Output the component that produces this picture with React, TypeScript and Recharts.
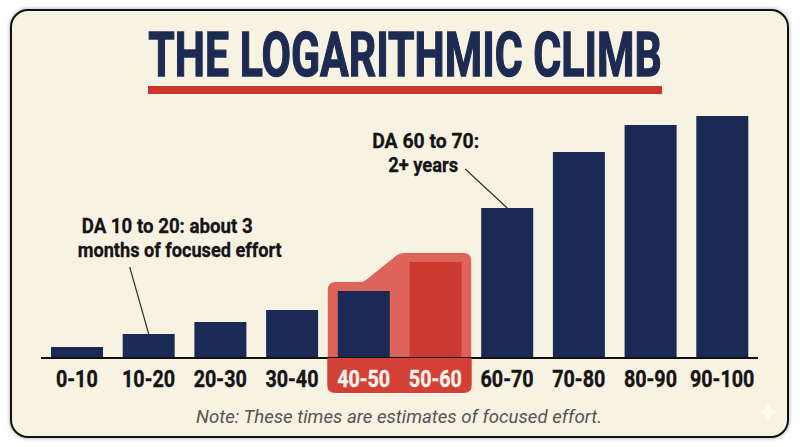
import { BarChart, Bar, XAxis, YAxis, ReferenceArea, Customized } from 'recharts'

// DA ranges and relative effort to climb through each one
const ranges = ['0-10', '10-20', '20-30', '30-40', '40-50', '50-60', '60-70', '70-80', '80-90', '90-100']
const effort = [11, 24, 36, 48, 67, 96, 150, 206, 233, 242]

const highlighted = ['40-50', '50-60']
const accent = '50-60'

// callouts hang off the top of a bar; dx is the left edge of each line
const annotations = [
  {
    range: '10-20',
    lines: [
      { text: 'DA 10 to 20: about 3', dx: -67, width: 171 },
      { text: 'months of focused effort', dx: -71, width: 204 },
    ],
    dy: -101,
    lead: { dx: -19, dy: -67 },
  },
  {
    range: '60-70',
    lines: [
      { text: 'DA 60 to 70:', dx: -135, width: 107 },
      { text: '2+ years', dx: -119, width: 70 },
    ],
    dy: -60,
    lead: { dx: -42, dy: -39 },
  },
]

const title = 'THE LOGARITHMIC CLIMB'
const note = 'Note: These times are estimates of focused effort.'

const data = ranges.map((range, i) => ({ range, effort: effort[i] }))

const W = 800
const H = 447
const AXIS_H = 40
const margin = { top: 108, right: 42, bottom: 49, left: 41 }
const PLOT_W = W - margin.left - margin.right

const NAVY = '#1b2a54'
const RED = '#cb3a30'
const HALO = '#de635a'
const TAG = '#d24036'
const INK = '#141414'
const FONT = 'Roboto, "Noto Sans", sans-serif'

function EffortBar(props: any) {
  const { x, y, width, height, payload } = props
  const fill = payload.range === accent ? RED : NAVY
  const ann = annotations.find((a) => a.range === payload.range)
  const cx = x + width / 2
  return (
    <g>
      <rect x={x} y={y} width={width} height={height} fill={fill} />
      {ann && (
        <g>
          <line
            x1={cx + ann.lead.dx}
            y1={y + ann.lead.dy}
            x2={cx}
            y2={y}
            stroke="#333"
            strokeWidth={1.2}
          />
          {ann.lines.map((ln, i) => (
            <text
              key={i}
              x={cx + ln.dx}
              y={y + ann.dy + i * 24}
              textLength={ln.width}
              lengthAdjust="spacingAndGlyphs"
              fontFamily={FONT}
              fontWeight={700}
              fontSize={21}
              fill={INK}
              stroke={INK}
              strokeWidth={0.3}
            >
              {ln.text}
            </text>
          ))}
        </g>
      )}
    </g>
  )
}

// stepped glow behind the highlighted pair of bars
function Halo(props: any) {
  const { x, y, width, height } = props
  const base = y + height
  const ppu = height / (effort[ranges.indexOf(highlighted[0])] + 9)
  const top1 = y
  const top2 = base - (effort[ranges.indexOf(highlighted[1])] + 9) * ppu
  const band = width / 2
  const d0 = x + band / 2
  const d1 = x + band
  const r = 8
  const path = [
    `M${x},${base}`,
    `L${x},${top1 + r}`,
    `Q${x},${top1} ${x + r},${top1}`,
    `L${d0 - 4},${top1}`,
    `Q${d0},${top1} ${d0 + 3},${top1 - 2.5}`,
    `L${d1 - 3},${top2 + 2.5}`,
    `Q${d1},${top2} ${d1 + 4},${top2}`,
    `L${x + width - r},${top2}`,
    `Q${x + width},${top2} ${x + width},${top2 + r}`,
    `L${x + width},${base}`,
    'Z',
  ].join(' ')
  return <path d={path} fill={HALO} />
}

function RangeTick(props: any) {
  const { x, y, payload } = props
  const label = payload.value as string
  const band = PLOT_W / ranges.length
  const hl = highlighted.includes(label)
  let box = null
  if (hl) {
    const left = x - band / 2 - 0.5
    const right = x + band / 2 + 0.5
    const bottom = y + 35
    const r = 8
    const first = label === highlighted[0]
    const last = label === highlighted[highlighted.length - 1]
    const d = [
      `M${left},${y}`,
      `L${right},${y}`,
      last ? `L${right},${bottom - r} Q${right},${bottom} ${right - r},${bottom}` : `L${right},${bottom}`,
      first ? `L${left + r},${bottom} Q${left},${bottom} ${left},${bottom - r}` : `L${left},${bottom}`,
      'Z',
    ].join(' ')
    box = <path d={d} fill={TAG} />
  }
  const color = hl ? '#fdf3ea' : INK
  return (
    <g>
      {box}
      <text
        transform={`translate(${x},${y + 29}) scale(0.84,1)`}
        textAnchor="middle"
        fontFamily={FONT}
        fontWeight={700}
        fontSize={23.5}
        fill={color}
        stroke={color}
        strokeWidth={0.4}
      >
        {label}
      </text>
    </g>
  )
}

function Heading() {
  return (
    <g>
      <text
        transform="translate(405,76) scale(0.69,1)"
        textAnchor="middle"
        fontFamily={FONT}
        fontWeight={700}
        fontSize={62}
        fill="#1d2b52"
        stroke="#1d2b52"
        strokeWidth={1.4}
      >
        {title}
      </text>
      <rect x={148} y={86} width={514} height={8} fill="#c9372f" />
      <text
        x={399}
        y={423}
        textAnchor="middle"
        textLength={406}
        lengthAdjust="spacingAndGlyphs"
        fontFamily={FONT}
        fontStyle="italic"
        fontSize={18.5}
        fill="#555"
      >
        {note}
      </text>
      <path
        d="M755,412 Q768,412 768,399 Q768,412 781,412 Q768,412 768,425 Q768,412 755,412 Z"
        fill="#fffdf7"
        opacity={0.8}
      />
    </g>
  )
}

export default function App() {
  return (
    <div style={{ position: 'absolute', left: 0, top: 0, width: W, height: H, background: '#fff' }}>
      <div
        style={{
          position: 'absolute',
          left: 10,
          top: 9,
          width: 779,
          height: 429,
          boxSizing: 'border-box',
          border: '2.5px solid #111',
          borderRadius: 18,
          background: '#f8f2e3',
          boxShadow: '0 0 4px rgba(0,0,0,0.35)',
        }}
      />
      <div style={{ position: 'absolute', left: 0, top: 0 }}>
        <BarChart width={W} height={H} data={data} margin={margin}>
          <YAxis hide domain={[0, 250]} />
          <XAxis
            dataKey="range"
            height={AXIS_H}
            interval={0}
            tickLine={false}
            tickSize={0}
            tickMargin={0}
            axisLine={{ stroke: '#111', strokeWidth: 2 }}
            tick={<RangeTick />}
          />
          <ReferenceArea
            x1={highlighted[0]}
            x2={highlighted[1]}
            y1={0}
            y2={effort[ranges.indexOf(highlighted[0])] + 9}
            shape={<Halo />}
            ifOverflow="visible"
          />
          <Bar dataKey="effort" barSize={52} shape={<EffortBar />} isAnimationActive={false} />
          <Customized component={Heading} />
        </BarChart>
      </div>
    </div>
  )
}
